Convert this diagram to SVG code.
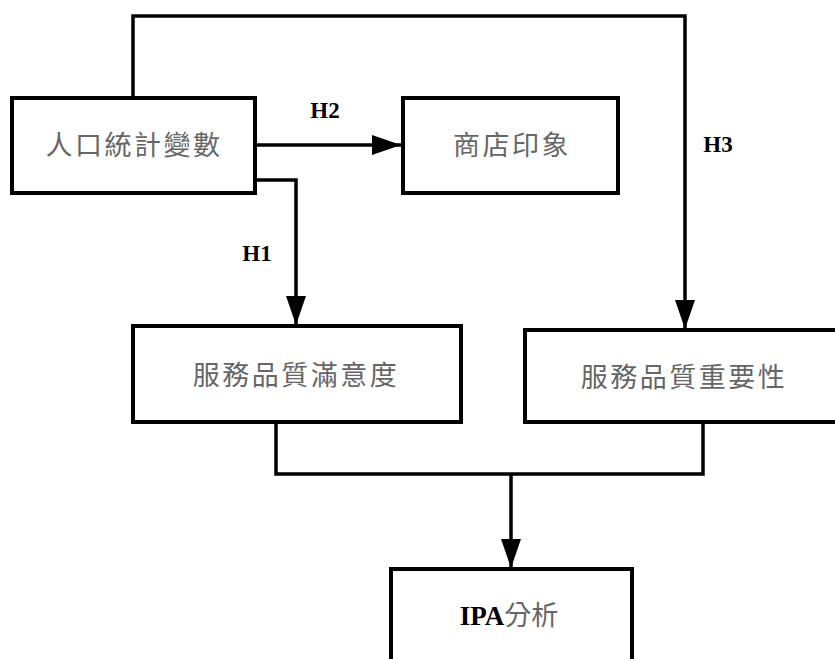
<svg xmlns="http://www.w3.org/2000/svg" width="835" height="659" viewBox="0 0 835 659">
<defs>
<style>
.box{fill:#fff;stroke:#000;stroke-width:4}
.conn{fill:none;stroke:#000;stroke-width:3.5}
.t{font-family:"Noto Sans CJK TC","Noto Sans CJK SC",sans-serif;font-size:27px;fill:#666;text-anchor:middle;letter-spacing:2.5px}
.h{font-family:"Liberation Serif",serif;font-weight:bold;font-size:23px;fill:#000;text-anchor:middle}
</style>
<marker id="arr" markerUnits="userSpaceOnUse" markerWidth="30" markerHeight="22" refX="29" refY="10" orient="auto">
<path d="M0,0 L29,10 L0,20 Z" fill="#000"/>
</marker>
</defs>
<rect width="835" height="659" fill="#fff"/>
<g id="connectors">
<path class="conn" d="M133,98 V16 H685 V329" marker-end="url(#arr)"/>
<path class="conn" d="M255,145 H401" marker-end="url(#arr)"/>
<path class="conn" d="M255,180 H296 V325" marker-end="url(#arr)"/>
<path class="conn" d="M276,422 V474 H703 V422"/>
<path class="conn" d="M511,474 V568" marker-end="url(#arr)"/>
</g>
<g id="labels">
<text class="h" x="325" y="118">H2</text>
<text class="h" x="257" y="261">H1</text>
<text class="h" x="718" y="152">H3</text>
</g>
<g id="n1"><rect class="box" x="12" y="98" width="243" height="95"/><text class="t" x="134" y="155">人口統計變數</text></g>
<g id="n2"><rect class="box" x="403" y="98" width="215" height="95"/><text class="t" x="512" y="155">商店印象</text></g>
<g id="n3"><rect class="box" x="133" y="326" width="328" height="96"/><text class="t" x="296" y="385">服務品質滿意度</text></g>
<g id="n4"><rect class="box" x="525" y="330" width="320" height="92"/><text class="t" x="684" y="387">服務品質重要性</text></g>
<g id="n5"><rect class="box" x="391" y="569" width="241" height="110"/><text x="509" y="625" style="font-size:27px;text-anchor:middle"><tspan style="font-family:'Liberation Serif',serif;font-weight:bold;fill:#000">IPA</tspan><tspan style="font-family:'Noto Sans CJK TC','Noto Sans CJK SC',sans-serif;fill:#666;font-size:27px">分析</tspan></text></g>
</svg>
